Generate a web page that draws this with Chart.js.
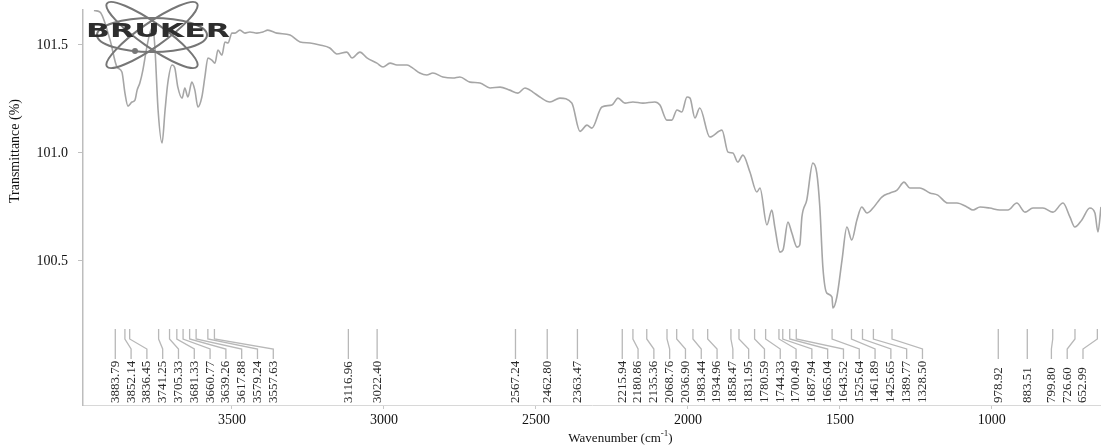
<!DOCTYPE html>
<html>
<head>
<meta charset="utf-8">
<script src="https://cdn.jsdelivr.net/npm/chart.js@4.4.1/dist/chart.umd.min.js"></script>
<style>
  html, body { margin: 0; padding: 0; background: #ffffff; }
  canvas { display: block; }
</style>
</head>
<body>
<canvas id="spectrum" width="1101" height="448" style="width:1101px;height:448px"></canvas>
<script>
// FTIR spectrum: wavenumber (cm-1) vs transmittance (%)
const wavenumbers = [
  3954, 3934, 3901, 3878, 3862, 3852, 3842, 3829, 3819, 3812, 3803, 3793, 3780, 3770, 3760, 3753,
  3743, 3730, 3720, 3711, 3697, 3688, 3678, 3664, 3655, 3645, 3632, 3622, 3612, 3599, 3589, 3579,
  3566, 3556, 3546, 3533, 3523, 3513, 3500, 3490, 3474, 3457, 3441, 3418, 3398, 3382, 3352, 3309,
  3276, 3243, 3211, 3178, 3155, 3122, 3105, 3079, 3056, 3023, 3003, 2980, 2957, 2924, 2905, 2882,
  2859, 2839, 2806, 2773, 2750, 2717, 2684, 2651, 2618, 2586, 2559, 2536, 2510, 2487, 2454, 2421,
  2382, 2355, 2332, 2316, 2283, 2250, 2230, 2207, 2181, 2148, 2109, 2092, 2069, 2053, 2036, 2020,
  2003, 1993, 1977, 1961, 1928, 1888, 1868, 1852, 1836, 1819, 1796, 1773, 1763, 1740, 1724, 1714,
  1697, 1687, 1671, 1658, 1641, 1632, 1625, 1609, 1589, 1576, 1566, 1556, 1543, 1526, 1523, 1510,
  1493, 1477, 1461, 1444, 1428, 1411, 1391, 1362, 1335, 1312, 1289, 1270, 1237, 1204, 1178, 1145,
  1115, 1082, 1062, 1039, 1007, 974, 947, 918, 891, 865, 832, 799, 766, 743, 727, 704,
  678, 661, 651, 641
];

const transmittance = [
  101.660, 101.652, 101.523, 101.398, 101.375, 101.277, 101.217, 101.236, 101.245, 101.291, 101.324, 101.384, 101.490, 101.555, 101.583, 101.477,
  101.199, 101.046, 101.199, 101.324, 101.407, 101.393, 101.305, 101.254, 101.301, 101.259, 101.328, 101.291, 101.213, 101.259, 101.352, 101.440,
  101.430, 101.416, 101.477, 101.453, 101.514, 101.509, 101.555, 101.555, 101.569, 101.555, 101.560, 101.555, 101.560, 101.569, 101.555, 101.546,
  101.514, 101.509, 101.500, 101.486, 101.458, 101.467, 101.440, 101.467, 101.440, 101.416, 101.398, 101.416, 101.407, 101.407, 101.393, 101.370,
  101.361, 101.370, 101.352, 101.347, 101.352, 101.328, 101.324, 101.301, 101.305, 101.291, 101.277, 101.301, 101.282, 101.259, 101.236, 101.254,
  101.231, 101.100, 101.129, 101.115, 101.213, 101.222, 101.254, 101.231, 101.236, 101.231, 101.236, 101.222, 101.152, 101.152, 101.199, 101.190,
  101.259, 101.254, 101.162, 101.208, 101.074, 101.106, 101.004, 101.000, 100.958, 100.990, 100.912, 100.819, 100.838, 100.667, 100.736, 100.657,
  100.541, 100.551, 100.680, 100.629, 100.564, 100.574, 100.703, 100.782, 100.953, 100.907, 100.750, 100.472, 100.351, 100.333, 100.282, 100.333,
  100.504, 100.657, 100.597, 100.690, 100.750, 100.722, 100.745, 100.796, 100.815, 100.828, 100.865, 100.838, 100.838, 100.815, 100.805, 100.768,
  100.768, 100.750, 100.736, 100.750, 100.745, 100.736, 100.736, 100.768, 100.726, 100.745, 100.745, 100.726, 100.768, 100.703, 100.657, 100.690,
  100.745, 100.722, 100.634, 100.750
];

// Picked peak positions (cm-1), labelled along the bottom of the plot
const peakPositions = [
  3883.79, 3852.14, 3836.45, 3741.25, 3705.33, 3681.33, 3660.77, 3639.26, 3617.88, 3579.24, 3557.63,
  3116.96, 3022.40, 2567.24, 2462.80, 2363.47, 2215.94, 2180.86, 2135.36, 2068.76, 2036.90, 1983.44,
  1934.96, 1858.47, 1831.95, 1780.59, 1744.33, 1700.49, 1687.94, 1665.04, 1643.52, 1525.64, 1461.89,
  1425.65, 1389.77, 1328.50, 978.92, 883.51, 799.80, 726.60, 652.99
];

const xTickValues = [3500, 3000, 2500, 2000, 1500, 1000];
const yTickValues = [100.5, 101.0, 101.5];
const xLimits = [641, 3990];
const yLimits = [99.833, 101.662];

const SERIF = '"Liberation Serif", "Times New Roman", serif';

// Bruker logo in the upper-left corner of the plot
const logoPlugin = {
  id: 'logo',
  afterDatasetsDraw(chart) {
    const ctx = chart.ctx;
    const a = chart.chartArea;
    const cx = a.left + 69, cy = a.top + 25;
    ctx.save();
    ctx.beginPath();
    ctx.rect(a.left, 0, a.width, chart.height);
    ctx.clip();
    ctx.strokeStyle = '#767676';
    ctx.lineWidth = 2;
    ctx.beginPath();
    ctx.ellipse(cx, cy, 55, 17, 0, 0, Math.PI * 2);
    ctx.stroke();
    ctx.beginPath();
    ctx.ellipse(cx, cy, 55, 12, 0.61, 0, Math.PI * 2);
    ctx.stroke();
    ctx.beginPath();
    ctx.ellipse(cx, cy, 55, 12, -0.61, 0, Math.PI * 2);
    ctx.stroke();
    ctx.fillStyle = '#767676';
    ctx.beginPath();
    ctx.arc(cx - 17, cy + 16, 3, 0, Math.PI * 2);
    ctx.fill();
    // word mark, stretched wide
    ctx.font = 'bold 19px "DejaVu Sans", sans-serif';
    ctx.textBaseline = 'alphabetic';
    ctx.textAlign = 'left';
    const word = 'BRUKER';
    const w = ctx.measureText(word).width;
    ctx.translate(a.left + 3, a.top + 27);
    ctx.scale(144 / w, 1);
    ctx.fillStyle = '#2e2e2e';
    ctx.fillText(word, 0, 0);
    ctx.restore();
  }
};

// Peak markers: leader lines from each peak down to a non-overlapping label slot
const peakLabelPlugin = {
  id: 'peakLabels',
  afterDatasetsDraw(chart) {
    const ctx = chart.ctx;
    const xs = chart.scales.x;
    const a = chart.chartArea;
    const gap = 15.8;
    const maxSlot = a.right - 18;
    const px = peakPositions.map(p => xs.getPixelForValue(p));
    const slots = px.slice();
    for (let i = 1; i < slots.length; i++) {
      slots[i] = Math.max(slots[i], slots[i - 1] + gap);
    }
    slots[slots.length - 1] = Math.min(slots[slots.length - 1], maxSlot);
    for (let i = slots.length - 2; i >= 0; i--) {
      slots[i] = Math.min(slots[i], slots[i + 1] - gap);
    }
    const yTop = a.bottom - 76, yBend1 = a.bottom - 66, yBend2 = a.bottom - 56, yEnd = a.bottom - 46;
    ctx.save();
    ctx.strokeStyle = '#b8b8b8';
    ctx.lineWidth = 1.3;
    for (let i = 0; i < px.length; i++) {
      ctx.beginPath();
      ctx.moveTo(px[i], yTop);
      if (Math.abs(slots[i] - px[i]) < 0.5) {
        ctx.lineTo(px[i], yEnd);
      } else {
        ctx.lineTo(px[i], yBend1);
        ctx.lineTo(slots[i], yBend2);
        ctx.lineTo(slots[i], yEnd);
      }
      ctx.stroke();
    }
    ctx.fillStyle = '#2a2a2a';
    ctx.font = '13px ' + SERIF;
    ctx.textAlign = 'left';
    ctx.textBaseline = 'middle';
    for (let i = 0; i < px.length; i++) {
      ctx.save();
      ctx.translate(slots[i], a.bottom - 2);
      ctx.rotate(-Math.PI / 2);
      ctx.fillText(peakPositions[i].toFixed(2), 0, 0);
      ctx.restore();
    }
    ctx.restore();
  }
};

// Axis titles
const axisTitlePlugin = {
  id: 'axisTitles',
  afterDraw(chart) {
    const ctx = chart.ctx;
    const a = chart.chartArea;
    ctx.save();
    ctx.fillStyle = '#111';
    // y title
    ctx.font = '14px ' + SERIF;
    ctx.textAlign = 'center';
    ctx.textBaseline = 'middle';
    ctx.save();
    ctx.translate(15, a.top + a.height * 0.357);
    ctx.rotate(-Math.PI / 2);
    ctx.fillText('Transmittance (%)', 0, 0);
    ctx.restore();
    // x title with superscript
    const main = 'Wavenumber (cm';
    const sup = '-1';
    const close = ')';
    ctx.font = '13px ' + SERIF;
    const w1 = ctx.measureText(main).width;
    const w3 = ctx.measureText(close).width;
    ctx.font = '9px ' + SERIF;
    const w2 = ctx.measureText(sup).width;
    const cx = a.left + a.width * 0.528;
    let x = cx - (w1 + w2 + w3) / 2;
    const base = 442;
    ctx.textAlign = 'left';
    ctx.textBaseline = 'alphabetic';
    ctx.font = '13px ' + SERIF;
    ctx.fillText(main, x, base);
    x += w1;
    ctx.font = '9px ' + SERIF;
    ctx.fillText(sup, x, base - 6);
    x += w2;
    ctx.font = '13px ' + SERIF;
    ctx.fillText(close, x, base);
    ctx.restore();
  }
};

const points = wavenumbers.map((w, i) => ({ x: w, y: transmittance[i] }));

new Chart(document.getElementById('spectrum'), {
  type: 'line',
  data: {
    datasets: [{
      data: points,
      borderColor: '#a6a6a6',
      borderWidth: 1.6,
      pointRadius: 0,
      fill: false,
      cubicInterpolationMode: 'monotone'
    }]
  },
  options: {
    responsive: false,
    animation: false,
    devicePixelRatio: 1,
    layout: { padding: { top: 10, left: 0, right: 0, bottom: 0 } },
    plugins: { legend: { display: false }, tooltip: { enabled: false } },
    scales: {
      x: {
        type: 'linear',
        reverse: true,
        min: xLimits[0],
        max: xLimits[1],
        afterBuildTicks: s => { s.ticks = xTickValues.map(v => ({ value: v })); },
        afterFit: s => { s.height = 43; s.paddingLeft = 0; s.paddingRight = 0; },
        grid: { drawOnChartArea: false, drawTicks: true, tickLength: 4, color: '#c8c8c8' },
        border: { display: true, color: '#d8d8d8', width: 1 },
        ticks: {
          font: { family: SERIF, size: 14 },
          color: '#111',
          padding: 3,
          maxRotation: 0,
          autoSkip: false,
          callback: v => String(v)
        }
      },
      y: {
        type: 'linear',
        min: yLimits[0],
        max: yLimits[1],
        afterBuildTicks: s => { s.ticks = yTickValues.map(v => ({ value: v })); },
        afterFit: s => { s.width = 83; s.paddingTop = 0; s.paddingBottom = 0; },
        grid: { drawOnChartArea: false, drawTicks: true, tickLength: 5, color: '#c0c0c0' },
        border: { display: true, color: '#bdbdbd', width: 1.5 },
        ticks: {
          font: { family: SERIF, size: 14 },
          color: '#111',
          padding: 10,
          autoSkip: false,
          callback: v => Number(v).toFixed(1)
        }
      }
    }
  },
  plugins: [logoPlugin, peakLabelPlugin, axisTitlePlugin]
});
</script>
</body>
</html>
